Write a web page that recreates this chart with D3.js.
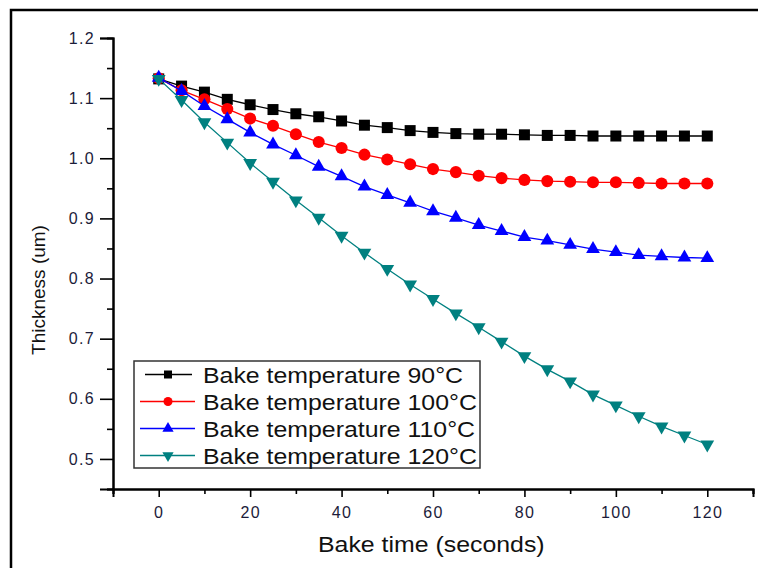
<!DOCTYPE html>
<html>
<head>
<meta charset="utf-8">
<script src="https://cdn.jsdelivr.net/npm/d3@7"></script>
<style>
  body { margin: 0; background: #fff; }
  svg { display: block; font-family: Arial, 'Liberation Sans', sans-serif; }
</style>
</head>
<body>
<div id="chart"></div>
<script>
// bake time (s) and film thickness (um) for each bake temperature
const times = [0, 5, 10, 15, 20, 25, 30, 35, 40, 45, 50, 55, 60, 65, 70, 75, 80, 85, 90, 95, 100, 105, 110, 115, 120]
const t90 = [1.132, 1.120, 1.110, 1.098, 1.089, 1.081, 1.074, 1.069, 1.062, 1.055, 1.051, 1.046, 1.043, 1.041, 1.040, 1.040, 1.039, 1.038, 1.038, 1.037, 1.037, 1.037, 1.037, 1.037, 1.037]
const t100 = [1.133, 1.113, 1.098, 1.082, 1.066, 1.054, 1.040, 1.027, 1.017, 1.006, 0.998, 0.990, 0.982, 0.977, 0.971, 0.967, 0.964, 0.962, 0.961, 0.960, 0.960, 0.959, 0.958, 0.958, 0.958]
const t110 = [1.134, 1.112, 1.087, 1.065, 1.043, 1.023, 1.005, 0.986, 0.970, 0.953, 0.939, 0.926, 0.912, 0.901, 0.889, 0.879, 0.869, 0.863, 0.856, 0.849, 0.844, 0.839, 0.837, 0.835, 0.834]
const t120 = [1.132, 1.097, 1.060, 1.026, 0.992, 0.961, 0.930, 0.901, 0.871, 0.843, 0.816, 0.790, 0.766, 0.742, 0.719, 0.695, 0.671, 0.649, 0.629, 0.607, 0.589, 0.571, 0.554, 0.539, 0.524]
const seriesNames = ['Bake temperature 90°C', 'Bake temperature 100°C', 'Bake temperature 110°C', 'Bake temperature 120°C']
const xTicks = [0, 20, 40, 60, 80, 100, 120]
const xMinor = [-10, 10, 30, 50, 70, 90, 110, 130]
const yTicks = [0.5, 0.6, 0.7, 0.8, 0.9, 1.0, 1.1, 1.2]
const yMinor = [0.45, 0.55, 0.65, 0.75, 0.85, 0.95, 1.05, 1.15]

const width = 758
const height = 568
const stretch = 1.13 // the reference text is a bit wider than plain Arial

const series = [
  { name: seriesNames[0], values: t90, color: '#000000', shape: 'square' },
  { name: seriesNames[1], values: t100, color: '#ff0000', shape: 'circle' },
  { name: seriesNames[2], values: t110, color: '#0000ff', shape: 'up' },
  { name: seriesNames[3], values: t120, color: '#008080', shape: 'down' }
]

const svg = d3
  .select('#chart')
  .append('svg')
  .attr('width', width)
  .attr('height', height)

// outer frame (only left and top edges visible)
svg
  .append('rect')
  .attr('x', 11)
  .attr('y', 10)
  .attr('width', 800)
  .attr('height', 600)
  .attr('fill', 'none')
  .attr('stroke', '#000')
  .attr('stroke-width', 2.5)

const xScale = d3.scaleLinear().domain([-10, 130]).range([113, 753])
const yScale = d3.scaleLinear().domain([0.45, 1.2]).range([489, 38])

function symbolPath(shape, big) {
  if (shape === 'square') return d3.symbol(d3.symbolSquare, big ? 121 : 64)()
  if (shape === 'circle') return d3.symbol(d3.symbolCircle, big ? 115 : 64)()
  return d3.symbol(d3.symbolTriangle, big ? 82 : 55)()
}

function widen(sel, factor) {
  sel.each(function() {
    const w = this.getComputedTextLength()
    d3.select(this)
      .attr('textLength', w * factor)
      .attr('lengthAdjust', 'spacingAndGlyphs')
  })
}

// axes
const xAxisG = svg.append('g').attr('transform', 'translate(0,489)')
xAxisG
  .call(d3.axisBottom(xScale).tickValues(xMinor).tickSize(5).tickFormat(''))
xAxisG
  .append('g')
  .call(d3.axisBottom(xScale).tickValues(xTicks).tickSize(8).tickPadding(7))

const yAxisG = svg.append('g').attr('transform', 'translate(113,0)')
yAxisG
  .call(d3.axisLeft(yScale).tickValues(yMinor).tickSize(6).tickFormat(''))
yAxisG
  .append('g')
  .call(
    d3.axisLeft(yScale)
      .tickValues(yTicks)
      .tickSize(13)
      .tickPadding(5)
      .tickFormat(d3.format('.1f'))
  )

svg.selectAll('.domain').attr('stroke', '#000').attr('stroke-width', 2)
svg.selectAll('.tick line').attr('stroke', '#000').attr('stroke-width', 1.6)
svg
  .selectAll('.tick text')
  .attr('fill', '#1c1c3a')
  .style('font-size', '16px')
  .style('font-family', 'Arial, "Liberation Sans", sans-serif')
  .style('letter-spacing', '1.3px')
xAxisG.selectAll('.tick text').attr('dy', '0.9em')

// series lines and markers
series.forEach(s => {
  const pts = times.map((t, i) => [t, s.values[i]])
  svg
    .append('path')
    .datum(pts)
    .attr('fill', 'none')
    .attr('stroke', s.color)
    .attr('stroke-width', 1.3)
    .attr('d', d3.line().x(d => xScale(d[0])).y(d => yScale(d[1])))

  svg
    .append('g')
    .selectAll('path')
    .data(pts)
    .enter()
    .append('path')
    .attr('d', symbolPath(s.shape, true))
    .attr('fill', s.color)
    .attr('transform', d => {
      const rot = s.shape === 'down' ? ' rotate(180)' : ''
      return 'translate(' + xScale(d[0]) + ',' + yScale(d[1]) + ')' + rot
    })
})

// axis titles
svg
  .append('text')
  .attr('x', 318)
  .attr('y', 552)
  .attr('fill', '#111')
  .style('font-size', '22px')
  .text('Bake time (seconds)')
  .call(widen, stretch)

svg
  .append('text')
  .attr('transform', 'translate(45,290) rotate(-90)')
  .attr('text-anchor', 'middle')
  .attr('fill', '#111')
  .style('font-size', '19px')
  .text('Thickness (um)')

// legend
const legend = svg.append('g')
legend
  .append('rect')
  .attr('x', 134)
  .attr('y', 361)
  .attr('width', 346)
  .attr('height', 107)
  .attr('fill', '#fff')
  .attr('stroke', '#333')
  .attr('stroke-width', 1.5)

series.forEach((s, i) => {
  const cy = 374.5 + i * 27
  const row = legend.append('g')
  row
    .append('line')
    .attr('x1', i === 0 ? 145 : 140)
    .attr('x2', i === 0 ? 192 : 195)
    .attr('y1', cy)
    .attr('y2', cy)
    .attr('stroke', s.color)
    .attr('stroke-width', 1.3)
  row
    .append('path')
    .attr('d', symbolPath(s.shape, false))
    .attr('fill', s.color)
    .attr('transform', 'translate(168,' + cy + ')' + (s.shape === 'down' ? ' rotate(180)' : ''))
  row
    .append('text')
    .attr('x', 203)
    .attr('y', cy + 8)
    .attr('fill', '#111')
    .style('font-size', '22px')
    .text(s.name)
    .call(widen, stretch)
})
</script>
</body>
</html>
